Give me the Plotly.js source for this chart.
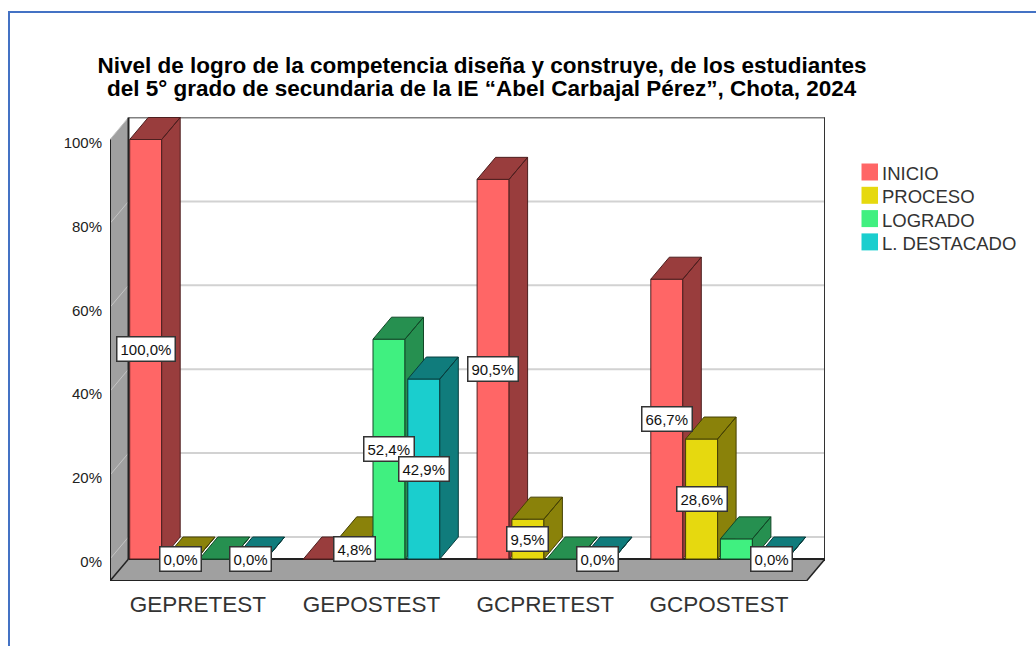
<!DOCTYPE html>
<html>
<head>
<meta charset="utf-8">
<script src="https://cdn.plot.ly/plotly-3.0.1.min.js"></script>
<style>
html,body{margin:0;padding:0;background:#fff;overflow:hidden}
#frame{position:absolute;left:8px;top:11px;right:-10px;bottom:-10px;border-left:2px solid #4472C4;border-top:2px solid #4472C4}
#chart{position:absolute;left:0;top:0;width:1036px;height:646px}
</style>
</head>
<body>
<div id="frame"></div>
<div id="chart"></div>
<script>
// ---- data ----
const categories = ['GEPRETEST', 'GEPOSTEST', 'GCPRETEST', 'GCPOSTEST'];
const seriesNames = ['INICIO', 'PROCESO', 'LOGRADO', 'L. DESTACADO'];
const inicio    = [100.0, 0.0, 90.5, 66.7];
const proceso   = [0.0, 4.8, 9.5, 28.6];
const logrado   = [0.0, 52.4, 0.0, 4.8];
const destacado = [0.0, 42.9, 0.0, 0.0];
const yTicks = [0, 20, 40, 60, 80, 100];
const titleLines = [
  'Nivel de logro de la competencia diseña y construye, de los estudiantes',
  'del 5° grado de secundaria de la IE “Abel Carbajal Pérez”, Chota, 2024'
];
// which values carry a visible data label in the reference
const inicioLabelled    = [true, false, true, true];
const procesoLabelled   = [true, true, true, true];
const logradoLabelled   = [false, true, false, false];
const destacadoLabelled = [true, true, true, true];

const values = [inicio, proceso, logrado, destacado];
const labelled = [inicioLabelled, procesoLabelled, logradoLabelled, destacadoLabelled];

// ---- styling ----
const frontColors = ['#FF6666', '#E6D90F', '#40F080', '#1ACECE'];
const sideColors  = ['#993D3D', '#8A820A', '#269050', '#107C7C'];
const edgeColors  = ['#4D1F1F', '#454105', '#134828', '#083E3E'];
const FONT = '"Liberation Sans", Arial, sans-serif';

// ---- plot geometry ----
const M = {l: 110, r: 211, t: 117, b: 65};
const W = 1036 - M.l - M.r, H = 646 - M.t - M.b;
const pxPerGroup = 173.7, pxPerPct = 4.195;
const groupPx0 = 197.9, zeroPy = 559;
const xRange = [(M.l - groupPx0) / pxPerGroup, (1036 - M.r - groupPx0) / pxPerGroup];
const yRange = [(zeroPy - (646 - M.b)) / pxPerPct, (zeroPy - M.t) / pxPerPct];
const depthX = 18.5 / pxPerGroup, depthY = 22 / pxPerPct;
const barW = 32 / pxPerGroup, barPitch = 34.8 / pxPerGroup;
const px = p => (p - M.l) / W;
const py = p => (646 - M.b - p) / H;

const xL = xRange[0], xR = xRange[1], yB = yRange[0], yT = yRange[1];
const xBack = xL + depthX;
const xFrontR = xR - depthX;

const poly = pts => 'M' + pts.map(p => p[0] + ',' + p[1]).join('L') + 'Z';
const seg = (a, b, color, width) => ({
  type: 'line', xref: 'x', yref: 'y', layer: 'below',
  x0: a[0], y0: a[1], x1: b[0], y1: b[1], line: {color, width}
});

const shapes = [];
// left wall and floor
shapes.push({type: 'path', xref: 'x', yref: 'y', layer: 'below', fillcolor: '#A0A0A0', line: {width: 0},
  path: poly([[xL, yB], [xL, 100], [xBack, 100 + depthY], [xBack, 0]])});
shapes.push({type: 'path', xref: 'x', yref: 'y', layer: 'below', fillcolor: '#A0A0A0', line: {width: 0},
  path: poly([[xL, yB], [xFrontR, yB], [xR, 0], [xBack, 0]])});
// grid lines on back and side walls
yTicks.forEach(v => {
  const top = v === yTicks[yTicks.length - 1];
  shapes.push(seg([xL, v], [xBack, v + depthY], '#C4C4C4', 1));
  shapes.push(seg([xBack, v + depthY], [xR, v + depthY], top ? '#808080' : '#D2D2D2', 2));
});
// frame edges
shapes.push(seg([xL, yB], [xL, 100], '#222222', 2));
shapes.push(seg([xBack, 0], [xBack, 100 + depthY], '#222222', 2));
shapes.push(seg([xR, 0], [xR, 100 + depthY], '#333333', 2));
shapes.push(seg([xL, yB], [xFrontR, yB], '#222222', 2));
shapes.push(seg([xBack, 0], [xR, 0], '#222222', 2));
shapes.push(seg([xL, yB], [xBack, 0], '#222222', 1.5));
shapes.push(seg([xFrontR, yB], [xR, 0], '#222222', 1.5));

const traces = [];
const annotations = [];
values.forEach((vals, j) => {
  const centers = categories.map((_, i) => i + (j - 1.5) * barPitch);
  traces.push({
    type: 'bar', name: seriesNames[j], x: centers, y: vals, width: barW,
    marker: {color: frontColors[j], line: {color: edgeColors[j], width: 1}},
    showlegend: false, hoverinfo: 'name+y', zorder: j * 2, cliponaxis: false
  });
  const xs = [], ys = [];
  vals.forEach((v, i) => {
    const x0 = centers[i] - barW / 2, x1 = centers[i] + barW / 2;
    // side face
    xs.push(x1, x1 + depthX, x1 + depthX, x1, x1, null);
    ys.push(0, depthY, v + depthY, v, 0, null);
    // top face
    xs.push(x0, x1, x1 + depthX, x0 + depthX, x0, null);
    ys.push(v, v, v + depthY, v + depthY, v, null);
    if (labelled[j][i]) {
      annotations.push({
        x: centers[i], y: v / 2, xref: 'x', yref: 'y', showarrow: false,
        text: v.toFixed(1).replace('.', ',') + '%',
        font: {family: FONT, size: 15, color: '#111'},
        bgcolor: '#FFFFFF', bordercolor: '#333333', borderwidth: 1.5, borderpad: 3
      });
    }
  });
  traces.push({
    type: 'scatter', mode: 'lines', x: xs, y: ys, fill: 'toself', fillcolor: sideColors[j],
    line: {color: edgeColors[j], width: 1}, showlegend: false, hoverinfo: 'skip',
    zorder: j * 2 + 1, cliponaxis: false
  });
});

// legend
seriesNames.forEach((name, j) => {
  const top = 163.5 + j * 23.3;
  shapes.push({type: 'rect', xref: 'paper', yref: 'paper', layer: 'above',
    x0: px(861.5), x1: px(878), y0: py(top), y1: py(top + 17),
    fillcolor: frontColors[j], line: {width: 0}});
  annotations.push({
    xref: 'paper', yref: 'paper', x: px(879.5), y: py(top + 10), xanchor: 'left', yanchor: 'middle',
    showarrow: false, text: name, font: {family: FONT, size: 18.5, color: '#333333'}
  });
});

// second title line, kept tight to the first as in the reference
annotations.push({
  xref: 'paper', yref: 'paper', x: px(482), y: py(88), xanchor: 'center', yanchor: 'middle',
  showarrow: false, text: '<b>' + titleLines[1] + '</b>', font: {family: FONT, size: 22.5, color: '#000'}
});

const layout = {
  width: 1036, height: 646,
  margin: M,
  paper_bgcolor: 'rgba(0,0,0,0)', plot_bgcolor: '#FFFFFF',
  showlegend: false, barmode: 'overlay',
  title: {
    text: '<b>' + titleLines[0] + '</b>',
    font: {family: FONT, size: 22.5, color: '#000'},
    x: 482 / 1036, xanchor: 'center', y: 1 - 65 / 646, yanchor: 'middle'
  },
  xaxis: {
    range: xRange, tickmode: 'array', tickvals: categories.map((_, i) => i), ticktext: categories,
    showgrid: false, zeroline: false, showline: false, ticks: '', ticklabelstandoff: 7,
    tickfont: {family: FONT, size: 22.5, color: '#333333'}
  },
  yaxis: {
    range: yRange, tickmode: 'array', tickvals: yTicks, ticktext: yTicks.map(v => v + '%'),
    showgrid: false, zeroline: false, showline: false, ticks: '', ticklabelstandoff: 7,
    ticklabelshift: 3,
    tickfont: {family: FONT, size: 15, color: '#222222'}
  },
  shapes, annotations
};
Plotly.newPlot('chart', traces, layout, {displayModeBar: false});
</script>
</body>
</html>
